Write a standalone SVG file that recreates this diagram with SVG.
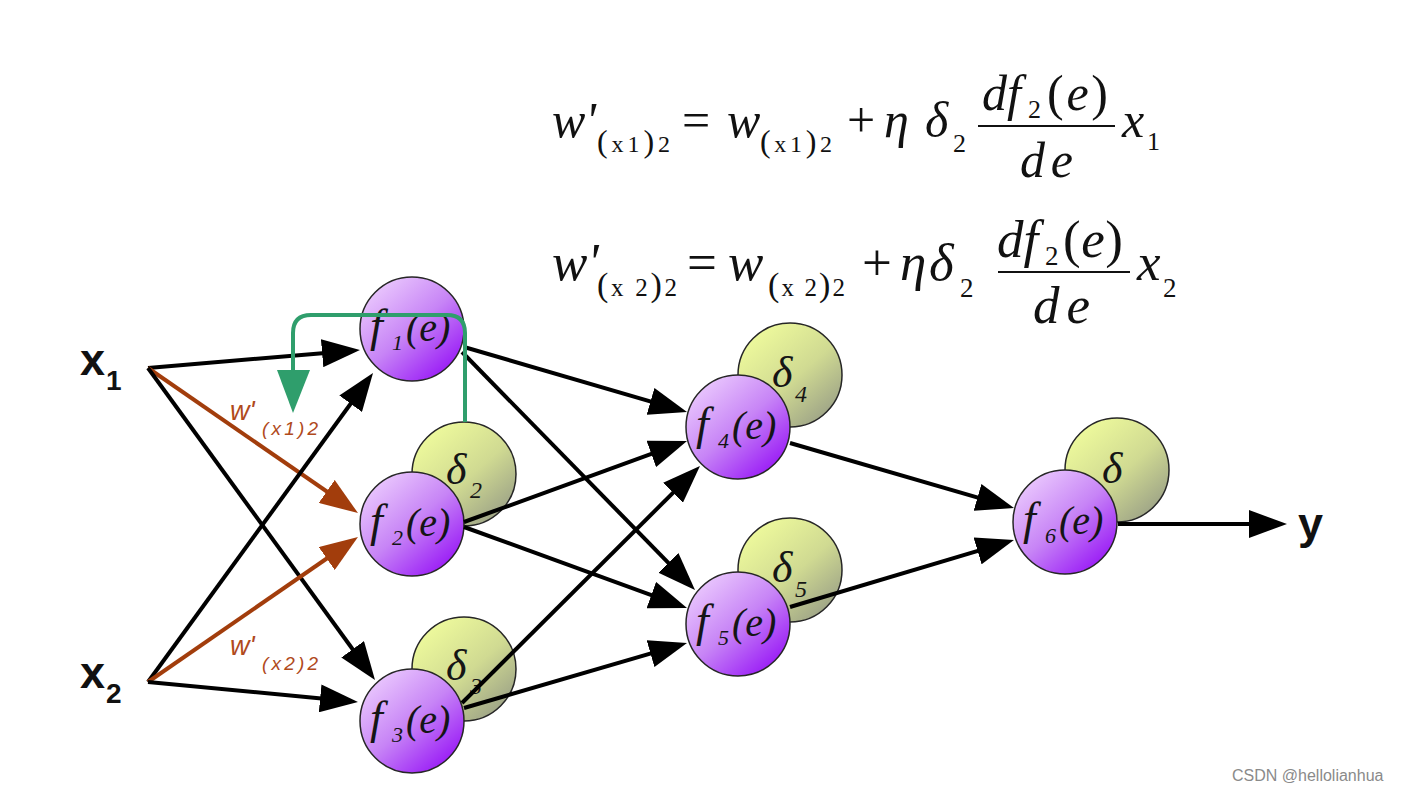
<svg xmlns="http://www.w3.org/2000/svg" width="1421" height="790" viewBox="0 0 1421 790">
<defs>
<linearGradient id="pg" x1="0.15" y1="0.1" x2="0.85" y2="0.9">
<stop offset="0" stop-color="#e9c6fd"/>
<stop offset="0.5" stop-color="#c784f6"/>
<stop offset="1" stop-color="#9a1cf6"/>
</linearGradient>
<linearGradient id="gg" x1="0.15" y1="0.1" x2="0.85" y2="0.9">
<stop offset="0" stop-color="#eefa9c"/>
<stop offset="0.55" stop-color="#d0da92"/>
<stop offset="1" stop-color="#9ea487"/>
</linearGradient>
<marker id="ah" markerUnits="userSpaceOnUse" markerWidth="38" markerHeight="28" refX="30" refY="14" orient="auto">
<path d="M0,0 L38,14 L0,28 z" fill="#000"/>
</marker>
<marker id="ahb" markerUnits="userSpaceOnUse" markerWidth="38" markerHeight="28" refX="30" refY="14" orient="auto">
<path d="M0,0 L38,14 L0,28 z" fill="#a23d0c"/>
</marker>
<style>
.eq{font-family:"Liberation Serif","Times New Roman",serif;fill:#111}
.it{font-style:italic}
.lbl{font-family:"Liberation Sans",Arial,sans-serif;font-weight:bold;fill:#111}
.wl{font-family:"Liberation Sans",Arial,sans-serif;font-style:italic;fill:#b04a1c}
.fn{fill:url(#pg);stroke:#262626;stroke-width:1.5}
.dn{fill:url(#gg);stroke:#262626;stroke-width:1.5}
.ftx{font-family:"Liberation Serif","Times New Roman",serif;font-style:italic;fill:#151515}
.edge{stroke:#000;stroke-width:4;fill:none;marker-end:url(#ah)}
.bedge{stroke:#a23d0c;stroke-width:4;fill:none;marker-end:url(#ahb)}
.fb{stroke:#2f9e6c;stroke-width:4;fill:none}
</style>
</defs>
<rect width="1421" height="790" fill="#fff"/>

<g id="equation1" class="eq">
<text class="it" x="552" y="137" font-size="50">w'</text>
<text x="597" y="152" font-size="24" textLength="73" lengthAdjust="spacing"><tspan font-size="32">(</tspan>x1<tspan font-size="32">)</tspan>2</text>
<text x="682" y="137" font-size="50">=</text>
<text class="it" x="727" y="137" font-size="50">w</text>
<text x="760" y="152" font-size="24" textLength="72" lengthAdjust="spacing"><tspan font-size="32">(</tspan>x1<tspan font-size="32">)</tspan>2</text>
<text x="847" y="137" font-size="50">+</text>
<text class="it" x="884" y="137" font-size="50">η</text>
<text class="it" x="925" y="137" font-size="50">δ</text>
<text x="953" y="152" font-size="26">2</text>
<text class="it" x="982" y="110" font-size="50">df</text>
<text x="1028" y="118" font-size="26">2</text>
<text x="1047" y="110" font-size="50" textLength="61" lengthAdjust="spacing">(<tspan class="it">e</tspan>)</text>
<line x1="978" y1="126" x2="1115" y2="126" stroke="#111" stroke-width="2"/>
<text class="it" x="1020" y="177" font-size="50" textLength="53" lengthAdjust="spacing">de</text>
<text class="it" x="1122" y="137" font-size="50">x</text>
<text x="1147" y="150" font-size="26">1</text>
</g>

<g id="equation2" class="eq">
<text class="it" x="552" y="280" font-size="53">w'</text>
<text x="597" y="296" font-size="25" textLength="80" lengthAdjust="spacing"><tspan font-size="34">(</tspan>x 2<tspan font-size="34">)</tspan>2</text>
<text x="687" y="280" font-size="53">=</text>
<text class="it" x="728" y="280" font-size="53">w</text>
<text x="768" y="296" font-size="25" textLength="77" lengthAdjust="spacing"><tspan font-size="34">(</tspan>x 2<tspan font-size="34">)</tspan>2</text>
<text x="862" y="280" font-size="53">+</text>
<text class="it" x="900" y="280" font-size="53">η</text>
<text class="it" x="929" y="280" font-size="53">δ</text>
<text x="960" y="297" font-size="27">2</text>
<text class="it" x="997" y="257" font-size="53">df</text>
<text x="1045" y="265" font-size="27">2</text>
<text x="1063" y="257" font-size="53" textLength="60" lengthAdjust="spacing">(<tspan class="it">e</tspan>)</text>
<line x1="998" y1="272" x2="1130" y2="272" stroke="#111" stroke-width="2"/>
<text class="it" x="1033" y="323" font-size="53" textLength="57" lengthAdjust="spacing">de</text>
<text class="it" x="1137" y="280" font-size="53">x</text>
<text x="1163" y="297" font-size="27">2</text>
</g>

<g id="input-x1"><text class="lbl" x="80" y="375" font-size="45">x</text><text class="lbl" x="106" y="390" font-size="28">1</text></g>
<g id="input-x2"><text class="lbl" x="80" y="688" font-size="45">x</text><text class="lbl" x="106" y="703" font-size="28">2</text></g>
<g id="output-y"><text class="lbl" x="1298" y="539" font-size="45">y</text></g>

<g id="delta2"><circle class="dn" cx="464" cy="474" r="52"/><text class="ftx" x="446" y="484" font-size="44">δ</text><text class="ftx" x="470" y="498" font-size="24">2</text></g>
<g id="delta3"><circle class="dn" cx="464" cy="669" r="52"/><text class="ftx" x="446" y="680" font-size="44">δ</text><text class="ftx" x="470" y="694" font-size="24">3</text></g>
<g id="delta4"><circle class="dn" cx="790" cy="375" r="52"/><text class="ftx" x="772" y="387" font-size="44">δ</text><text class="ftx" x="795" y="402" font-size="24">4</text></g>
<g id="delta5"><circle class="dn" cx="790" cy="570" r="52"/><text class="ftx" x="772" y="582" font-size="44">δ</text><text class="ftx" x="795" y="597" font-size="24">5</text></g>
<g id="delta6"><circle class="dn" cx="1117" cy="470" r="52"/><text class="ftx" x="1102" y="483" font-size="44">δ</text></g>

<g id="f1"><circle class="fn" cx="412" cy="329" r="52"/><text class="ftx" x="370" y="341" font-size="46">f</text><text class="ftx" x="392" y="350" font-size="22">1</text><text class="ftx" x="406" y="341" font-size="40">(e)</text></g>
<g id="f2"><circle class="fn" cx="412" cy="524" r="52"/><text class="ftx" x="370" y="536" font-size="46">f</text><text class="ftx" x="392" y="545" font-size="22">2</text><text class="ftx" x="406" y="536" font-size="40">(e)</text></g>
<g id="f3"><circle class="fn" cx="412" cy="721" r="52"/><text class="ftx" x="370" y="733" font-size="46">f</text><text class="ftx" x="392" y="742" font-size="22">3</text><text class="ftx" x="406" y="733" font-size="40">(e)</text></g>
<g id="f4"><circle class="fn" cx="738" cy="427" r="52"/><text class="ftx" x="696" y="439" font-size="46">f</text><text class="ftx" x="718" y="448" font-size="22">4</text><text class="ftx" x="732" y="439" font-size="40">(e)</text></g>
<g id="f5"><circle class="fn" cx="738" cy="624" r="52"/><text class="ftx" x="696" y="636" font-size="46">f</text><text class="ftx" x="718" y="645" font-size="22">5</text><text class="ftx" x="732" y="636" font-size="40">(e)</text></g>
<g id="f6"><circle class="fn" cx="1065" cy="522" r="52"/><text class="ftx" x="1023" y="534" font-size="46">f</text><text class="ftx" x="1045" y="543" font-size="22">6</text><text class="ftx" x="1059" y="534" font-size="40">(e)</text></g>

<g id="connectors">
<path class="edge" d="M148,368 L352,350.7"/>
<path class="bedge" d="M148,368 L351.4,508.5"/>
<path class="edge" d="M148,368 L370.3,673.5"/>
<path class="edge" d="M148,682 L368.3,379.5"/>
<path class="bedge" d="M148,682 L351.4,541.5"/>
<path class="edge" d="M148,682 L350,701.2"/>
<path class="edge" d="M464,347 L679.3,409.8"/>
<path class="edge" d="M462,352 L689.4,584.3"/>
<path class="edge" d="M464,522 L679.5,443.7"/>
<path class="edge" d="M464,527 L679.5,605.3"/>
<path class="edge" d="M462,703 L694.3,471.6"/>
<path class="edge" d="M464,708 L679.3,645.2"/>
<path class="edge" d="M790,443 L1006.3,505.8"/>
<path class="edge" d="M790,607 L1006.3,542.3"/>
<path class="edge" d="M1118,524 L1279,524"/>
<path class="fb" d="M465,422 V333 Q465,315 447,315 H311 Q293,315 293,333 V372"/>
<polygon points="277,370 310,370 293,413" fill="#2f9e6c"/>
</g>

<g id="weight-labels">
<text class="wl" x="230" y="420" font-size="27">w'</text><text class="wl" x="262" y="435" font-size="19" textLength="56" lengthAdjust="spacing">(x1)2</text>
<text class="wl" x="230" y="655" font-size="27">w'</text><text class="wl" x="262" y="670" font-size="19" textLength="56" lengthAdjust="spacing">(x2)2</text>
</g>

<text x="1232" y="781" font-family="Liberation Sans, Arial, sans-serif" font-size="16" fill="#8a8a8a">CSDN @hellolianhua</text>
</svg>
